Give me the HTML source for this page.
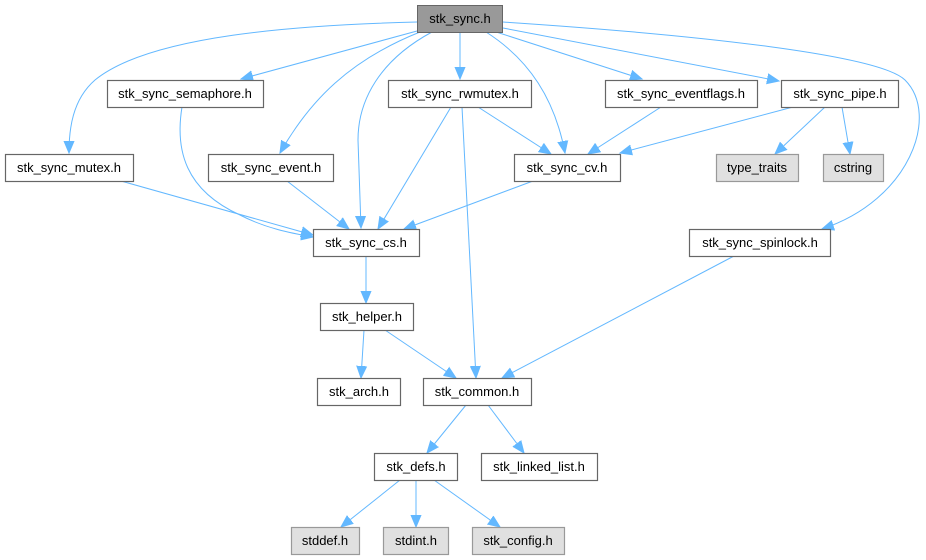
<!DOCTYPE html>
<html><head><meta charset="utf-8"><style>
body{margin:0;background:#fff;}
svg{display:block;font-family:"Liberation Sans",Arial,sans-serif;}
text{font-size:13px;fill:#000;text-anchor:middle;}
.n{fill:#fff;stroke:#666;stroke-width:1.2;}
.g{fill:#e0e0e0;stroke:#999;stroke-width:1.2;}
.e{fill:none;stroke:#63b8ff;stroke-width:1;marker-end:url(#a);}
</style></head><body>
<svg width="926" height="560" viewBox="0 0 926 560">
<defs><marker id="a" markerUnits="userSpaceOnUse" markerWidth="14" markerHeight="12" refX="12" refY="6" orient="auto"><path d="M0,1 L12,6 L0,11 z" fill="#63b8ff" stroke="#63b8ff"/></marker></defs>
<path class="e" d="M417,22 C300,25 150,35 95,80 C72,100 69,130 69,153"/>
<path class="e" d="M417,31 L241,79"/>
<path class="e" d="M420,32 C350,60 310,100 280,153"/>
<path class="e" d="M432,32 C380,60 358,100 358,140 L361,228"/>
<path class="e" d="M460,32 L460,79"/>
<path class="e" d="M486,32 C530,60 555,100 565,153"/>
<path class="e" d="M490,30 L642,79"/>
<path class="e" d="M503,28 L779,81"/>
<path class="e" d="M503,22 C700,35 880,55 905,80 C940,115 910,200 822,229"/>
<path class="e" d="M182,107 C175,150 185,190 240,215 C265,228 290,233 313,237"/>
<path class="e" d="M121,181 L313,235"/>
<path class="e" d="M287,181 L349,229"/>
<path class="e" d="M451,107 L378,229"/>
<path class="e" d="M462,107 L476,378"/>
<path class="e" d="M478,107 L551,154"/>
<path class="e" d="M661,107 L588,154"/>
<path class="e" d="M793,107 L620,153"/>
<path class="e" d="M825,107 L775,154"/>
<path class="e" d="M842,107 L850,154"/>
<path class="e" d="M533,181 L404,229"/>
<path class="e" d="M366,256 L366,303"/>
<path class="e" d="M734,256 L502,378"/>
<path class="e" d="M364,330 L361,378"/>
<path class="e" d="M385,330 L456,378"/>
<path class="e" d="M466,405 L427,453"/>
<path class="e" d="M488,405 L524,453"/>
<path class="e" d="M400,480 L341,527"/>
<path class="e" d="M416,480 L416,527"/>
<path class="e" d="M434,480 L500,527"/>

<rect x="417.5" y="5.5" width="85" height="27" fill="#999" stroke="#666"/><text x="460" y="23">stk_sync.h</text>
<rect class="n" x="107.5" y="80.5" width="156" height="27"/><text x="185" y="98">stk_sync_semaphore.h</text>
<rect class="n" x="388.5" y="80.5" width="143" height="27"/><text x="460" y="98">stk_sync_rwmutex.h</text>
<rect class="n" x="605.5" y="80.5" width="152" height="27"/><text x="681" y="98">stk_sync_eventflags.h</text>
<rect class="n" x="781.5" y="80.5" width="117" height="27"/><text x="840" y="98">stk_sync_pipe.h</text>
<rect class="n" x="5.5" y="154.5" width="128" height="27"/><text x="69" y="172">stk_sync_mutex.h</text>
<rect class="n" x="208.5" y="154.5" width="125" height="27"/><text x="271" y="172">stk_sync_event.h</text>
<rect class="n" x="514.5" y="154.5" width="106" height="27"/><text x="567" y="172">stk_sync_cv.h</text>
<rect class="g" x="716.5" y="154.5" width="82" height="27"/><text x="757" y="172">type_traits</text>
<rect class="g" x="823.5" y="154.5" width="60" height="27"/><text x="853" y="172">cstring</text>
<rect class="n" x="313.5" y="229.5" width="106" height="27"/><text x="366" y="247">stk_sync_cs.h</text>
<rect class="n" x="689.5" y="229.5" width="141" height="27"/><text x="760" y="247">stk_sync_spinlock.h</text>
<rect class="n" x="320.5" y="303.5" width="93" height="27"/><text x="367" y="321">stk_helper.h</text>
<rect class="n" x="317.5" y="378.5" width="83" height="27"/><text x="359" y="396">stk_arch.h</text>
<rect class="n" x="423.5" y="378.5" width="108" height="27"/><text x="477" y="396">stk_common.h</text>
<rect class="n" x="374.5" y="453.5" width="83" height="27"/><text x="416" y="471">stk_defs.h</text>
<rect class="n" x="481.5" y="453.5" width="116" height="27"/><text x="539" y="471">stk_linked_list.h</text>
<rect class="g" x="291.5" y="527.5" width="68" height="27"/><text x="325" y="545">stddef.h</text>
<rect class="g" x="383.5" y="527.5" width="65" height="27"/><text x="416" y="545">stdint.h</text>
<rect class="g" x="472.5" y="527.5" width="92" height="27"/><text x="518" y="545">stk_config.h</text>
</svg>
</body></html>
